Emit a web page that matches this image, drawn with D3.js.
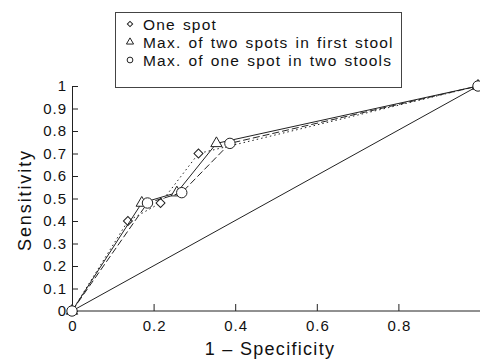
<!DOCTYPE html>
<html>
<head>
<meta charset="utf-8">
<script src="https://cdn.jsdelivr.net/npm/d3@7"></script>
<style>
  body { margin: 0; background: #fff; }
  svg { font-family: "Liberation Sans", Arial, sans-serif; }
</style>
</head>
<body>
<svg width="480" height="360"></svg>
<script>
// ROC curves
var oneSpotX = [0, 0.137, 0.217, 0.31, 1];
var oneSpotY = [0, 0.40, 0.48, 0.70, 1];

var twoSpotsX = [0, 0.171, 0.257, 0.354, 1];
var twoSpotsY = [0, 0.48, 0.526, 0.745, 1];

var twoStoolsX = [0, 0.185, 0.269, 0.387, 1];
var twoStoolsY = [0, 0.48, 0.526, 0.745, 1];

var xTicks = [0, 0.2, 0.4, 0.6, 0.8];
var yTicks = [0, 0.1, 0.2, 0.3, 0.4, 0.5, 0.6, 0.7, 0.8, 0.9, 1];

var legendLabels = ["One spot", "Max. of two spots in first stool", "Max. of one spot in two stools"];

var svg = d3.select("svg");
var font = "Liberation Sans, Arial, sans-serif";

var Xscale = d3.scaleLinear().domain([0, 1]).range([72, 480]);
var Yscale = d3.scaleLinear().domain([0, 1]).range([311, 86]);

var xAxis = d3.axisBottom(Xscale)
				.tickValues(xTicks)
				.tickFormat(d3.format("~g"))
				.tickSize(-7)
				.tickSizeOuter(0)
				.tickPadding(9);

var yAxis = d3.axisLeft(Yscale)
				.tickValues(yTicks)
				.tickFormat(d3.format("~g"))
				.tickSize(-6)
				.tickSizeOuter(0)
				.tickPadding(5);

var gx = svg.append("g")
	.attr("transform", "translate(0," + Yscale(0) + ")")
	.call(xAxis);
gx.select(".domain").attr("d", "M" + Xscale(0) + ",0H480");

var gy = svg.append("g")
	.attr("transform", "translate(" + Xscale(0) + ",0)")
	.call(yAxis);

svg.selectAll(".tick text")
	.attr("font-size", 15)
	.attr("letter-spacing", 1)
	.attr("fill", "#111")
	.attr("font-family", font);
gx.selectAll(".tick text").attr("dx", 0.5);
svg.selectAll(".domain, .tick line").attr("stroke", "#222");

// diagonal chance line
svg.append("line")
	.attr("x1", Xscale(0)).attr("y1", Yscale(0))
	.attr("x2", Xscale(1) - 2).attr("y2", Yscale(1))
	.attr("stroke", "#222").attr("stroke-width", 1);

function series(xs, ys) {
	return xs.map((x, i) => ({x: x, y: ys[i]}));
}

var line = d3.line().x(d => Xscale(d.x) - (d.x === 1 ? 2 : 0)).y(d => Yscale(d.y));

var allSeries = [
	{data: series(oneSpotX, oneSpotY), dash: "1.5,3", symbol: d3.symbolSquare, size: 40, rot: 45},
	{data: series(twoSpotsX, twoSpotsY), dash: null, symbol: d3.symbolTriangle, size: 55, rot: 0},
	{data: series(twoStoolsX, twoStoolsY), dash: "7,3", symbol: d3.symbolCircle, size: 85, rot: 0}
];

allSeries.forEach(s => {
	svg.append("path")
		.datum(s.data)
		.attr("d", line)
		.attr("fill", "none")
		.attr("stroke", "#222")
		.attr("stroke-width", 1)
		.attr("stroke-dasharray", s.dash);

	svg.selectAll(null)
		.data(s.data)
		.enter()
		.append("path")
		.attr("transform", d => "translate(" + (Xscale(d.x) - (d.x === 1 ? 2 : 0)) + "," + Yscale(d.y) + ") rotate(" + s.rot + ")")
		.attr("d", d3.symbol().type(s.symbol).size(s.size))
		.attr("fill", "#fff")
		.attr("stroke", "#222")
		.attr("stroke-width", 1);
});

// legend
var legend = svg.append("g");
legend.append("rect")
	.attr("x", 115.5).attr("y", 12.5)
	.attr("width", 286).attr("height", 75)
	.attr("fill", "#fff").attr("stroke", "#444");

var legendSymbols = [d3.symbolSquare, d3.symbolTriangle, d3.symbolCircle];
var legendSizes = [14, 22, 26];
var legendRot = [45, 0, 0];
legendLabels.forEach((label, i) => {
	var cy = 24 + i * 18;
	legend.append("path")
		.attr("transform", "translate(130," + cy + ") rotate(" + legendRot[i] + ")")
		.attr("d", d3.symbol().type(legendSymbols[i]).size(legendSizes[i]))
		.attr("fill", "#fff").attr("stroke", "#222");
	legend.append("text")
		.attr("x", 143).attr("y", cy)
		.attr("dy", "0.36em")
		.attr("font-size", 15.5)
		.attr("letter-spacing", 1.2)
		.attr("word-spacing", 1.5)
		.attr("fill", "#111")
		.text(label);
});

svg.append("text")
	.attr("x", 270)
	.attr("y", 355)
	.attr("text-anchor", "middle")
	.attr("font-size", 18)
	.attr("letter-spacing", 1.3)
	.attr("fill", "#111")
	.text("1 – Specificity");

svg.append("text")
	.attr("transform", "rotate(-90)")
	.attr("x", -200)
	.attr("y", 31)
	.attr("text-anchor", "middle")
	.attr("font-size", 18)
	.attr("letter-spacing", 1.9)
	.attr("fill", "#111")
	.text("Sensitivity");
</script>
</body>
</html>
